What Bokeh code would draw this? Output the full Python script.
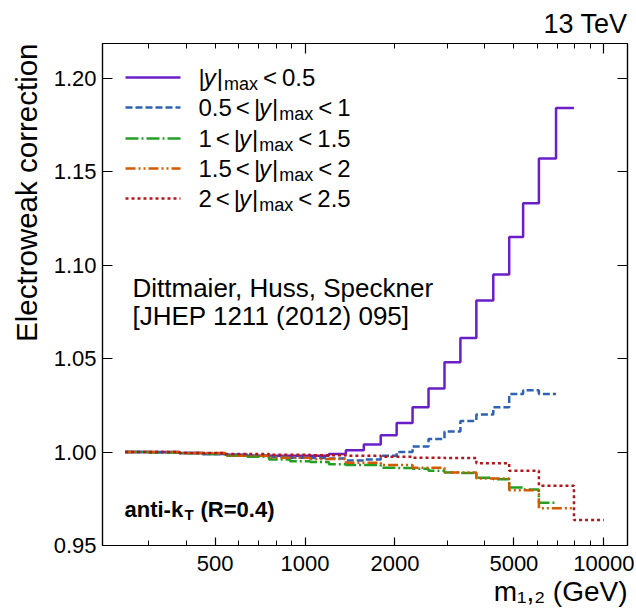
import math
from bokeh.plotting import figure
from bokeh.models import Range1d, FixedTicker, LinearAxis, LogAxis, Label, Arrow, PrintfTickFormatter, Title
from bokeh.embed import file_html
from bokeh.resources import INLINE

FONT = "Liberation Sans"

# ---------------- data ----------------
mass_edges_fine = [250, 300, 380, 453, 541, 641, 758, 891, 1039, 1202, 1370, 1573, 1792,
                   2026, 2290, 2590, 2929, 3311, 3744, 4266, 4823, 5369, 6063, 6918, 7943]
mass_edges_coarse = [250, 380, 541, 758, 1039, 1370, 1792, 2290, 2929, 3744, 4823, 6063, 7943, 10000]

ew_y00_05 = [1.000, 1.000, 0.9995, 0.999, 0.9985, 0.998, 0.998, 0.998, 0.998, 0.999, 1.001, 1.004,
             1.009, 1.0155, 1.024, 1.034, 1.048, 1.061, 1.081, 1.095, 1.115, 1.133, 1.157, 1.184]
ew_y05_10 = [1.000, 0.9998, 0.9995, 0.999, 0.9985, 0.998, 0.9975, 0.997, 0.9968, 0.9965, 0.9955, 0.996,
             0.998, 1.000, 1.003, 1.007, 1.011, 1.0166, 1.020, 1.024, 1.031, 1.033, 1.031]
ew_y10_15 = [1.000, 0.9998, 0.9993, 0.999, 0.998, 0.9975, 0.996, 0.995, 0.9946, 0.9934, 0.993, 0.993,
             0.9916, 0.9915, 0.991, 0.990, 0.989, 0.9888, 0.9862, 0.9855, 0.981, 0.980, 0.9729]
ew_y15_20 = [1.000, 0.9995, 0.998, 0.997, 0.9963, 0.9943, 0.993, 0.9916, 0.989, 0.9859, 0.9795, 0.9699]
ew_y20_25 = [1.000, 0.9995, 0.999, 0.9985, 0.9983, 0.998, 0.9975, 0.997, 0.9968, 0.994, 0.990, 0.982, 0.9636]

rap_low = [None, "0.5", "1", "1.5", "2"]
rap_high = ["0.5", "1", "1.5", "2", "2.5"]

y_ticks = [0.95, 1.00, 1.05, 1.10, 1.15, 1.20]
x_labelled = [500, 1000, 2000, 5000, 10000]
x_major = [1000, 10000]
x_minor = [300, 400, 500, 600, 700, 800, 900, 2000, 3000, 4000, 5000, 6000, 7000, 8000, 9000]

series = [
    (mass_edges_fine[:len(ew_y00_05) + 1], ew_y00_05, "#6a1ec8", "solid"),
    (mass_edges_fine[:len(ew_y05_10) + 1], ew_y05_10, "#2e62b2", "7 3"),
    (mass_edges_fine[:len(ew_y10_15) + 1], ew_y10_15, "#23a023", "13 3 2 3"),
    (mass_edges_coarse[:len(ew_y15_20) + 1], ew_y15_20, "#d25a00", "10 3 2 3 2 3"),
    (mass_edges_coarse[:len(ew_y20_25) + 1], ew_y20_25, "#b3171d", "3 3"),
]

# ---------------- figure ----------------
W, H = 636, 609
FL, FR, FT, FB = 100, 627, 43, 545   # frame in page pixels

p = figure(width=W, height=H, x_axis_type="log",
           x_range=Range1d(210, 12000), y_range=Range1d(0.95, 1.2185),
           output_backend="svg", toolbar_location=None,
           min_border_left=FL, min_border_right=W - FR,
           min_border_top=FT, min_border_bottom=H - FB)
p.grid.visible = False
p.background_fill_color = "white"
p.border_fill_color = "white"
p.outline_line_color = "black"
p.outline_line_width = 1.2

def style_axis(ax, labels=True):
    ax.axis_line_color = "black"
    ax.axis_line_width = 1.2
    ax.major_tick_in = 10
    ax.major_tick_out = 0
    ax.minor_tick_in = 5
    ax.minor_tick_out = 0
    ax.major_tick_line_color = "black"
    ax.minor_tick_line_color = "black"
    ax.major_tick_line_width = 1.2
    ax.minor_tick_line_width = 1.0
    if labels:
        ax.major_label_text_font = FONT
        ax.major_label_text_font_size = "22px"
        ax.major_label_text_color = "black"
        ax.major_label_standoff = 6
    else:
        ax.major_label_text_font_size = "1px"
        ax.major_label_text_alpha = 0
        ax.major_label_standoff = 0

# bottom
xb = p.xaxis[0]
xb.ticker = FixedTicker(ticks=x_labelled, minor_ticks=[t for t in x_minor if t not in x_labelled])
style_axis(xb, labels=True)
xb.major_tick_in = 8
xb.major_label_standoff = 10
# left
yl = p.yaxis[0]
yl.ticker = FixedTicker(ticks=y_ticks, minor_ticks=[])
yl.formatter = PrintfTickFormatter(format="%.2f")
style_axis(yl, labels=True)
yl.minor_tick_line_color = None
# right
yr = LinearAxis(ticker=FixedTicker(ticks=y_ticks, minor_ticks=[]))
style_axis(yr, labels=False)
yr.minor_tick_line_color = None
p.add_layout(yr, "right")
# top
xt = LogAxis(ticker=FixedTicker(ticks=x_major, minor_ticks=x_minor))
style_axis(xt, labels=False)
p.add_layout(xt, "above")

# titles outside the frame
p.add_layout(Title(text="13 TeV", align="right", text_font=FONT, text_font_size="27px",
                   text_font_style="normal", text_color="black", standoff=10), "above")
p.add_layout(Title(text="Electroweak correction", align="right", text_font=FONT,
                   text_font_size="29.5px", text_font_style="normal", text_color="black",
                   standoff=15), "left")
p.add_layout(Title(text="m\u2081,\u2082 (GeV)", align="right", text_font=FONT,
                   text_font_size="28px", text_font_style="normal", text_color="black",
                   standoff=0), "below")

# ---------------- curves ----------------
for edges, vals, col, dash in series:
    p.step(x=edges, y=list(vals) + [vals[-1]], mode="after",
           line_color=col, line_width=2.5, line_dash=dash)

# ---------------- texts inside the frame ----------------
def lab(x, y, text, size, style="normal", align="left", baseline="middle"):
    p.add_layout(Label(x=x - FL, y=FB - y, x_units="screen", y_units="screen",
                       text=text, text_font=FONT, text_font_size=f"{size}px",
                       text_font_style=style, text_align=align, text_baseline=baseline,
                       text_color="black"))

lab(130, 287, "Dittmaier, Huss, Speckner", 26)
lab(130, 315, "[JHEP 1211 (2012) 095]", 26)

lab(122, 509, "anti-k", 22, style="bold")
lab(182, 514, "T", 15, style="bold")
lab(198, 509, "(R=0.4)", 22, style="bold")

# legend (line sample + text pieces laid out with Arial-metric advance widths)
EM = {"0": 0.556, "1": 0.556, "2": 0.556, "5": 0.556, ".": 0.278, "<": 0.584,
      "|": 0.26, "y": 0.5, "m": 0.833, "a": 0.556, "x": 0.5}
def adv(s, size):
    return sum(EM[c] for c in s) * size

MAIN, SUB = 24, 18
row_y = [77, 107, 138, 168, 198]
for (edges, vals, col, dash), ry, lo, hi in zip(series, row_y, rap_low, rap_high):
    p.add_layout(Arrow(x_start=123 - FL, y_start=FB - ry, x_end=178 - FL, y_end=FB - ry,
                       start_units="screen", end_units="screen", end=None,
                       line_color=col, line_width=2.5, line_dash=dash))
    tokens = []
    if lo is not None:
        tokens += [(0, lo, "normal", MAIN, 0), (4, "<", "normal", MAIN, 0), (4, "|", "normal", MAIN, 0)]
    else:
        tokens += [(0, "|", "normal", MAIN, 0)]
    tokens += [(-1, "y", "italic", MAIN, 0), (1, "|", "normal", MAIN, 0), (1, "max", "normal", SUB, 6),
               (5, "<", "normal", MAIN, 0), (5, hi, "normal", MAIN, 0)]
    x = 196
    for gap, txt, sty, sz, dy in tokens:
        x += gap
        lab(x, ry + dy, txt, sz, style=sty)
        x += adv(txt, sz)

open("out.html", "w").write(file_html(p, INLINE))
